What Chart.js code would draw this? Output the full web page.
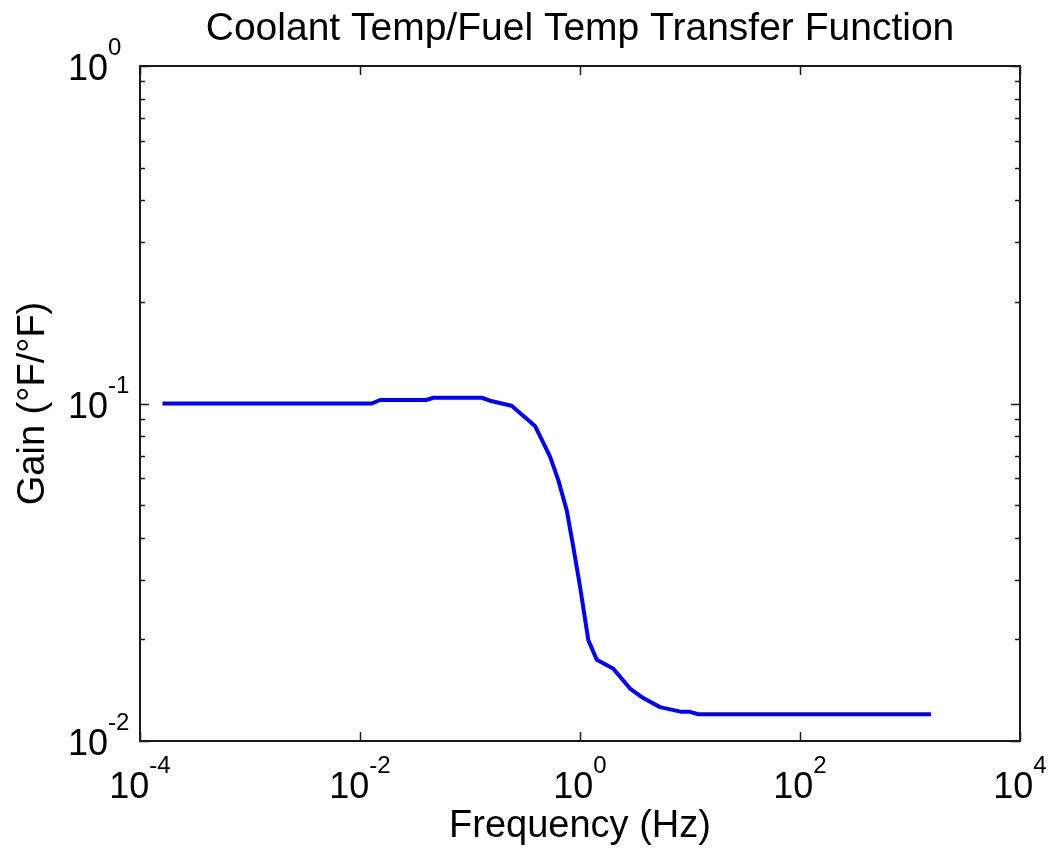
<!DOCTYPE html>
<html>
<head>
<meta charset="utf-8">
<script src="https://cdn.jsdelivr.net/npm/chart.js@4/dist/chart.umd.min.js"></script>
<style>
  body { margin: 0; background: #fff; }
  canvas { display: block; }
</style>
</head>
<body>
<canvas id="bodeChart" width="1054" height="849"></canvas>
<script>
// values
const freqHz = [1.6e-4, 0.0128, 0.0152, 0.0398, 0.0464, 0.128, 0.152, 0.239, 0.39, 0.534,
  0.635, 0.757, 0.869, 1.0, 1.19, 1.42, 2.0, 2.85, 3.76, 5.34, 8.41, 10, 11.9, 1550];
const gainValues = [0.1, 0.1, 0.1024, 0.1024, 0.104, 0.104, 0.1019, 0.0985, 0.0858, 0.0696,
  0.0593, 0.0483, 0.0376, 0.0287, 0.0199, 0.0174, 0.0164, 0.0143, 0.0134, 0.0126, 0.0122, 0.0122, 0.0120, 0.0120];

const xTickExps = [-4, -2, 0, 2, 4];
const yTickExps = [-2, -1, 0];
const yMinorMultipliers = [2, 3, 4, 5, 6, 7, 8, 9];

const chartTitle = 'Coolant Temp/Fuel Temp Transfer Function';
const xTitle = 'Frequency (Hz)';
const yTitle = 'Gain (°F/°F)';

const FONT = '"Liberation Sans", Arial, Helvetica, sans-serif';

function drawText(ctx, text, x, y, size, align) {
  ctx.font = size + 'px ' + FONT;
  ctx.textAlign = align;
  ctx.fillText(text, x, y);
  return ctx.measureText(text).width;
}

function textWidth(ctx, text, size) {
  ctx.font = size + 'px ' + FONT;
  return ctx.measureText(text).width;
}

// base "10" with exponent; anchor is the left edge
function powerLabel(ctx, exp, left, baseY) {
  const w10 = drawText(ctx, '10', left, baseY, 36, 'left');
  drawText(ctx, String(exp), left + w10, baseY - 25, 24, 'left');
}

const matlabAxes = {
  id: 'matlabAxes',
  afterDraw(chart) {
    const ctx = chart.ctx;
    const area = chart.chartArea;
    const xs = chart.scales.x;
    const ys = chart.scales.y;

    ctx.save();
    ctx.fillStyle = '#000';
    ctx.strokeStyle = '#1a1a1a';
    ctx.lineWidth = 2;
    ctx.textBaseline = 'alphabetic';

    ctx.strokeRect(area.left, area.top, area.right - area.left, area.bottom - area.top);

    ctx.lineWidth = 1.5;
    ctx.beginPath();
    xTickExps.forEach(e => {
      const px = Math.round(xs.getPixelForValue(Math.pow(10, e))) + 0.5;
      ctx.moveTo(px, area.bottom); ctx.lineTo(px, area.bottom - 9);
      ctx.moveTo(px, area.top); ctx.lineTo(px, area.top + 9);
    });
    yTickExps.forEach(e => {
      const py = Math.round(ys.getPixelForValue(Math.pow(10, e))) + 0.5;
      ctx.moveTo(area.left, py); ctx.lineTo(area.left + 9, py);
      ctx.moveTo(area.right, py); ctx.lineTo(area.right - 9, py);
      if (e < 0) {
        yMinorMultipliers.forEach(m => {
          const my = Math.round(ys.getPixelForValue(m * Math.pow(10, e))) + 0.5;
          ctx.moveTo(area.left, my); ctx.lineTo(area.left + 5, my);
          ctx.moveTo(area.right, my); ctx.lineTo(area.right - 5, my);
        });
      }
    });
    ctx.stroke();

    // x tick labels
    xTickExps.forEach(e => {
      const px = xs.getPixelForValue(Math.pow(10, e));
      const total = textWidth(ctx, '10', 36) + textWidth(ctx, String(e), 24);
      powerLabel(ctx, e, px - total / 2, area.bottom + 57);
    });

    // y tick labels, "10" starts at the same left edge
    yTickExps.forEach(e => {
      const py = ys.getPixelForValue(Math.pow(10, e));
      powerLabel(ctx, e, 68, py + 14);
    });

    // titles
    const cx = (area.left + area.right) / 2;
    const cy = (area.top + area.bottom) / 2;
    drawText(ctx, chartTitle, cx, 40, 39, 'center');
    drawText(ctx, xTitle, cx, 837, 38, 'center');

    ctx.save();
    ctx.translate(44, cy);
    ctx.rotate(-Math.PI / 2);
    drawText(ctx, yTitle, 0, 0, 38, 'center');
    ctx.restore();

    ctx.restore();
  }
};

const points = freqHz.map((f, i) => ({ x: f, y: gainValues[i] }));

new Chart(document.getElementById('bodeChart').getContext('2d'), {
  type: 'scatter',
  data: {
    datasets: [{
      data: points,
      showLine: true,
      borderColor: '#0000ff',
      borderWidth: 4,
      pointRadius: 0,
      tension: 0,
      borderJoinStyle: 'round',
    }]
  },
  options: {
    responsive: false,
    animation: false,
    layout: {
      padding: { left: 140, right: 34, top: 66, bottom: 108 }
    },
    scales: {
      x: { type: 'logarithmic', min: 1e-4, max: 1e4, display: false },
      y: { type: 'logarithmic', min: 1e-2, max: 1, display: false }
    },
    plugins: {
      legend: { display: false },
      tooltip: { enabled: false }
    }
  },
  plugins: [matlabAxes]
});
</script>
</body>
</html>
